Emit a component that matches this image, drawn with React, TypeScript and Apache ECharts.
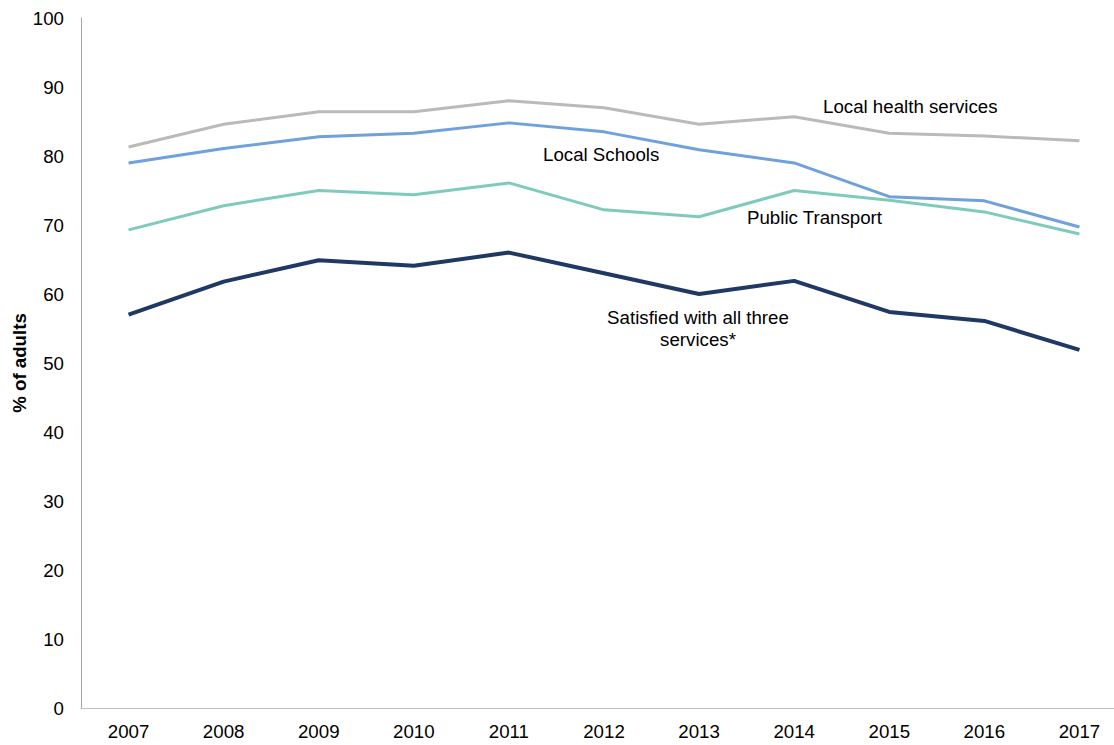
import React, { useEffect, useRef } from "react";
import * as echarts from "echarts";

const years = ["2007", "2008", "2009", "2010", "2011", "2012", "2013", "2014", "2015", "2016", "2017"];
const healthServices = [81.3, 84.6, 86.4, 86.4, 88.0, 87.0, 84.6, 85.7, 83.3, 82.9, 82.2];
const localSchools = [79.0, 81.1, 82.8, 83.3, 84.8, 83.5, 80.9, 79.0, 74.1, 73.5, 69.7];
const publicTransport = [69.3, 72.8, 75.0, 74.4, 76.1, 72.2, 71.2, 75.0, 73.6, 71.9, 68.7];
const allThree = [57.0, 61.8, 64.9, 64.1, 66.0, 63.0, 60.0, 61.9, 57.4, 56.1, 51.9];

const FONT = "'Liberation Sans', Arial, sans-serif";
const FS = 18.7;

export default function App() {
  const ref = useRef<HTMLDivElement>(null);
  useEffect(() => {
    if (!ref.current) return;
    const chart = echarts.init(ref.current, null, { renderer: "svg" });
    const lineSeries = (name: string, data: number[], color: string, width: number) => ({
      name,
      type: "line",
      data,
      symbol: "none",
      lineStyle: { color, width },
      itemStyle: { color },
    });
    const label = (text: string, x: number, y: number, align = "left") => ({
      type: "text",
      x,
      y,
      style: {
        text,
        fontSize: FS,
        lineHeight: 22,
        fill: "#000",
        fontFamily: FONT,
        align,
        verticalAlign: "middle",
      },
    });
    chart.setOption({
      animation: false,
      textStyle: { fontFamily: FONT },
      grid: { left: 81, right: 13, top: 18, bottom: 37, containLabel: false, outerBoundsMode: "none" },
      xAxis: {
        type: "category",
        data: years,
        boundaryGap: true,
        axisLine: { lineStyle: { color: "#bfbfbf", width: 1 } },
        axisTick: { show: false },
        axisLabel: { color: "#000", fontSize: FS, margin: 14, fontFamily: FONT },
      },
      yAxis: {
        type: "value",
        min: 0,
        max: 100,
        interval: 10,
        name: "% of adults",
        nameLocation: "middle",
        nameGap: 52,
        nameMoveOverlap: false,
        nameTextStyle: { color: "#000", fontSize: FS, fontWeight: "bold", fontFamily: FONT },
        axisLine: { show: true, lineStyle: { color: "#a6a6a6", width: 1 } },
        axisTick: { show: false },
        splitLine: { show: false },
        axisLabel: { color: "#000", fontSize: FS, margin: 17, fontFamily: FONT },
      },
      series: [
        lineSeries("Local health services", healthServices, "#bababa", 3),
        lineSeries("Local Schools", localSchools, "#6fa1dc", 3),
        lineSeries("Public Transport", publicTransport, "#7ecbbb", 3),
        lineSeries("Satisfied with all three services*", allThree, "#1f3864", 4),
      ],
      graphic: [
        label("Local health services", 823, 106),
        label("Local Schools", 543, 154),
        label("Public Transport", 747, 217),
        label("Satisfied with all three\nservices*", 698, 328, "center"),
      ],
    });
    return () => chart.dispose();
  }, []);
  return (
    <div style={{ position: "absolute", left: 0, top: 0, width: 1114, height: 745, overflow: "hidden" }}>
      <div ref={ref} style={{ width: 1140, height: 745 }} />
    </div>
  );
}
